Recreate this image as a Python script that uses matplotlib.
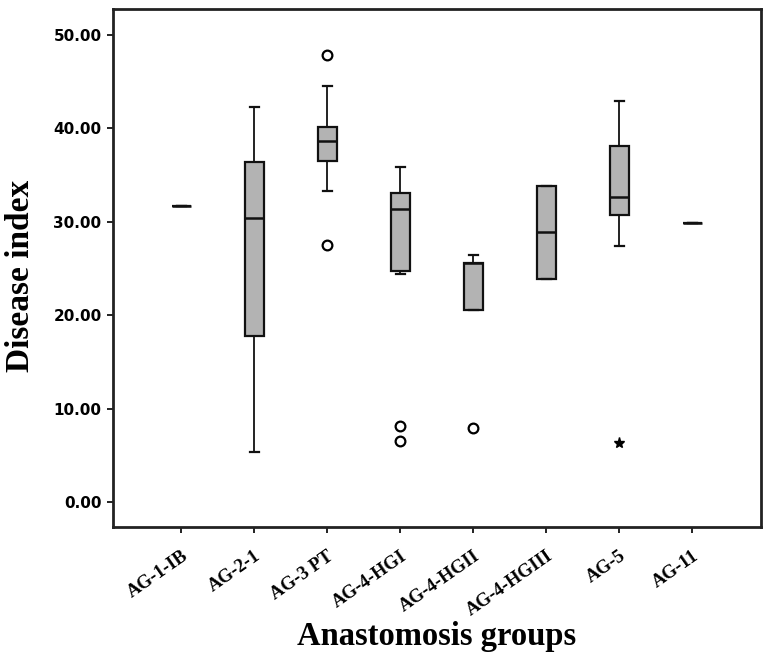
import matplotlib
matplotlib.use("Agg")
import matplotlib.pyplot as plt

categories = ["AG-1-IB", "AG-2-1", "AG-3 PT", "AG-4-HGI", "AG-4-HGII",
              "AG-4-HGIII", "AG-5", "AG-11"]
whislo = [31.7, 5.4, 33.3, 24.4, 20.5, 23.9, 27.4, 29.8]
q1 = [31.7, 17.8, 36.5, 24.7, 20.5, 23.9, 30.7, 29.8]
med = [31.7, 30.4, 38.6, 31.3, 25.6, 28.9, 32.6, 29.8]
q3 = [31.7, 36.4, 40.1, 33.1, 25.6, 33.8, 38.1, 29.8]
whishi = [31.7, 42.3, 44.5, 35.8, 26.4, 33.8, 42.9, 29.8]
outliers = [[], [], [47.8, 27.5], [8.1, 6.6], [7.9], [], [], []]
extremes = [[], [], [], [], [], [], [6.3], []]
yticks = [0, 10, 20, 30, 40, 50]

stats = []
for i, c in enumerate(categories):
    stats.append(dict(label=c, whislo=whislo[i], q1=q1[i], med=med[i],
                      q3=q3[i], whishi=whishi[i], fliers=outliers[i]))

fig = plt.figure(figsize=(7.64, 6.54), dpi=100)
ax = fig.add_axes([0.1475, 0.1937, 0.8485, 0.7921])

positions = list(range(1, len(categories) + 1))
ax.bxp(stats, positions=positions, widths=0.26, patch_artist=True,
       boxprops=dict(facecolor="#b3b3b3", edgecolor="#111111", linewidth=1.6),
       medianprops=dict(color="#111111", linewidth=1.8),
       whiskerprops=dict(color="#111111", linewidth=1.3),
       capprops=dict(color="#111111", linewidth=1.6),
       flierprops=dict(marker="o", markersize=7, markerfacecolor="white",
                       markeredgecolor="black", markeredgewidth=1.6))

for p, ex in zip(positions, extremes):
    if ex:
        ax.plot([p] * len(ex), ex, linestyle="none", marker="*", markersize=8,
                color="black")

ax.set_xlim(0.06, 8.94)
ax.set_ylim(-2.68, 52.7)
ax.set_yticks(yticks)
ax.set_yticklabels(["%.2f" % v for v in yticks], fontsize=11,
                   fontweight="bold", family="DejaVu Sans")
ax.set_xticks(positions)
ax.set_xticklabels(categories, rotation=35, ha="right", va="top",
                   rotation_mode="anchor", fontsize=13.5, fontweight="bold",
                   family="Liberation Serif")
ax.tick_params(axis="both", direction="out", length=4.5, width=1.3,
               color="#111111")
ax.tick_params(axis="x", pad=10)
for s in ax.spines.values():
    s.set_linewidth(2)
    s.set_color("#222222")

ax.set_ylabel("Disease index", fontsize=24, fontweight="bold",
              family="Liberation Serif")
ax.yaxis.set_label_coords(-0.118, 0.486)
ax.set_xlabel("Anastomosis groups", fontsize=23.5, fontweight="bold",
              family="Liberation Serif")
ax.xaxis.set_label_coords(0.5, -0.181)

fig.savefig("out.png", dpi=100)
